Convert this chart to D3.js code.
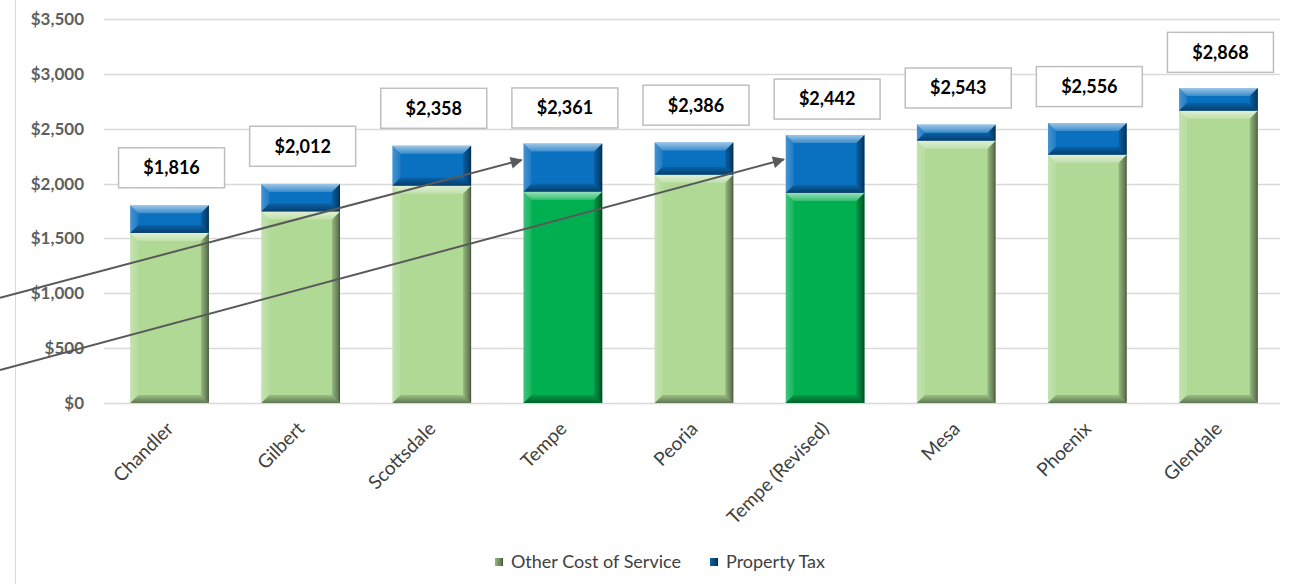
<!DOCTYPE html>
<html>
<head>
<meta charset="utf-8">
<script src="https://cdn.jsdelivr.net/npm/d3@7"></script>
<style>
  body { margin: 0; background: #fff; }
  svg { display: block; font-family: Lato, "Open Sans", sans-serif; }
</style>
</head>
<body>
<div id="chart"></div>
<script>
// data
const cities = ["Chandler", "Gilbert", "Scottsdale", "Tempe", "Peoria", "Tempe (Revised)", "Mesa", "Phoenix", "Glendale"];
const otherCost = [1550, 1745, 1980, 1925, 2080, 1915, 2390, 2262, 2663];
const propertyTax = [252, 252, 365, 440, 295, 528, 147, 290, 208];
const totals = [1816, 2012, 2358, 2361, 2386, 2442, 2543, 2556, 2868];
const highlighted = ["Tempe", "Tempe (Revised)"];
const yTicks = [0, 500, 1000, 1500, 2000, 2500, 3000, 3500];
const seriesNames = ["Other Cost of Service", "Property Tax"];

// arrows: start value at the left edge, tip at a bar's left side
const arrows = [
  { target: "Tempe", from: 960, to: 2215 },
  { target: "Tempe (Revised)", from: 300, to: 2220 }
];

const width = 1299, height = 584;

const svg = d3.select("#chart")
  .append("svg")
  .attr("width", width)
  .attr("height", height);

const defs = svg.append("defs");

function grad(id, x2, y2, stops) {
  const g = defs.append("linearGradient")
    .attr("id", id)
    .attr("x1", 0).attr("y1", 0)
    .attr("x2", x2).attr("y2", y2);
  stops.forEach(s => g.append("stop")
    .attr("offset", s[0])
    .attr("stop-color", s[1])
    .attr("stop-opacity", s[2]));
}
grad("bevTop", 0, 1, [[0, "#fff", 0.6], [1, "#fff", 0.2]]);
grad("bevBot", 0, 1, [[0, "#000", 0.12], [1, "#000", 0.45]]);
grad("bevLeft", 1, 0, [[0, "#fff", 0.25], [1, "#fff", 0.08]]);
grad("bevRight", 1, 0, [[0, "#000", 0.15], [0.8, "#000", 0.45], [1, "#000", 0.65]]);

const x = d3.scaleBand()
  .domain(cities)
  .range([104, 1284])
  .paddingInner(0.4)
  .paddingOuter(0.2);

const y = d3.scaleLinear()
  .domain([0, 3500])
  .range([403, 19]);

// left border line
svg.append("line")
  .attr("x1", 15.5).attr("x2", 15.5)
  .attr("y1", 0).attr("y2", height)
  .attr("stroke", "#d9d9d9");

// gridlines
svg.append("g")
  .selectAll("line")
  .data(yTicks).enter()
  .append("line")
  .attr("x1", 104).attr("x2", 1280)
  .attr("y1", d => Math.round(y(d)) + 0.5)
  .attr("y2", d => Math.round(y(d)) + 0.5)
  .attr("stroke", "#d9d9d9")
  .attr("stroke-width", 1.5);

// y tick labels
svg.append("g")
  .selectAll("text")
  .data(yTicks).enter()
  .append("text")
  .attr("x", 84)
  .attr("y", d => y(d))
  .attr("dy", "0.35em")
  .attr("text-anchor", "end")
  .attr("font-size", 17)
  .attr("font-weight", "bold")
  .attr("fill", "#5f5f5f")
  .text(d => "$" + d3.format(",")(d));

// stacked segments
const segs = [];
cities.forEach((c, i) => {
  const hi = highlighted.includes(c);
  segs.push({ city: c, y0: 0, y1: otherCost[i], fill: hi ? "#00b050" : "#b0d996" });
  segs.push({ city: c, y0: otherCost[i], y1: otherCost[i] + propertyTax[i], fill: "#0a70c0" });
});

const bars = svg.append("g");
segs.forEach(s => {
  const bx = x(s.city), bw = x.bandwidth();
  const top = y(s.y1), bh = y(s.y0) - y(s.y1);
  const b = Math.min(8, bh / 2);
  const g = bars.append("g");
  g.append("rect")
    .attr("x", bx).attr("y", top)
    .attr("width", bw).attr("height", bh)
    .attr("fill", s.fill);
  const pts = {
    bevTop: [[bx, top], [bx + bw, top], [bx + bw - b, top + b], [bx + b, top + b]],
    bevLeft: [[bx, top], [bx + b, top + b], [bx + b, top + bh - b], [bx, top + bh]],
    bevBot: [[bx + b, top + bh - b], [bx + bw - b, top + bh - b], [bx + bw, top + bh], [bx, top + bh]],
    bevRight: [[bx + bw - b, top + b], [bx + bw, top], [bx + bw, top + bh], [bx + bw - b, top + bh - b]]
  };
  Object.keys(pts).forEach(k => {
    g.append("polygon")
      .attr("points", pts[k].map(p => p.join(",")).join(" "))
      .attr("fill", "url(#" + k + ")");
  });
});

// total labels in boxes
const boxW = 106, boxH = 40;
const labels = svg.append("g")
  .selectAll("g")
  .data(cities).enter()
  .append("g")
  .attr("transform", (c, i) => `translate(${x(c) + x.bandwidth() / 2 + 2},${y(totals[i]) - 16 - boxH / 2})`);

labels.append("rect")
  .attr("x", -boxW / 2).attr("y", -boxH / 2)
  .attr("width", boxW).attr("height", boxH)
  .attr("fill", "#fff")
  .attr("stroke", "#bfbfbf")
  .attr("stroke-width", 1.5);

labels.append("text")
  .attr("text-anchor", "middle")
  .attr("dy", "0.35em")
  .attr("font-size", 18)
  .attr("font-weight", "bold")
  .attr("fill", "#000")
  .text((c, i) => "$" + d3.format(",")(totals[i]));

// x labels
svg.append("g")
  .selectAll("text")
  .data(cities).enter()
  .append("text")
  .attr("transform", c => `translate(${x(c) + x.bandwidth() / 2 + 5},430) rotate(-45)`)
  .attr("text-anchor", "end")
  .attr("font-size", 19)
  .attr("fill", "#404040")
  .text(c => c);

// arrows
defs.append("marker")
  .attr("id", "arrowHead")
  .attr("viewBox", "0 0 10 10")
  .attr("refX", 9).attr("refY", 5)
  .attr("markerWidth", 7).attr("markerHeight", 6)
  .attr("markerUnits", "strokeWidth")
  .attr("orient", "auto")
  .append("path")
  .attr("d", "M0,0 L10,5 L0,10 z")
  .attr("fill", "#595959");

svg.append("g")
  .selectAll("line")
  .data(arrows).enter()
  .append("line")
  .attr("x1", 0)
  .attr("y1", d => y(d.from))
  .attr("x2", d => x(d.target) - 2)
  .attr("y2", d => y(d.to))
  .attr("stroke", "#595959")
  .attr("stroke-width", 2)
  .attr("marker-end", "url(#arrowHead)");

// legend
const legendColors = ["#b0d996", "#0a70c0"];
const legendX = [495, 710];
const legend = svg.append("g")
  .selectAll("g")
  .data(seriesNames).enter()
  .append("g")
  .attr("transform", (d, i) => `translate(${legendX[i]},562)`);

legend.append("rect")
  .attr("x", 0).attr("y", -4)
  .attr("width", 8).attr("height", 8)
  .attr("fill", (d, i) => legendColors[i]);

legend.append("rect")
  .attr("x", 0).attr("y", -4)
  .attr("width", 8).attr("height", 8)
  .attr("fill", "url(#bevRight)");

legend.append("text")
  .attr("x", 16)
  .attr("dy", "0.35em")
  .attr("font-size", 18)
  .attr("fill", "#404040")
  .text(d => d);
</script>
</body>
</html>
